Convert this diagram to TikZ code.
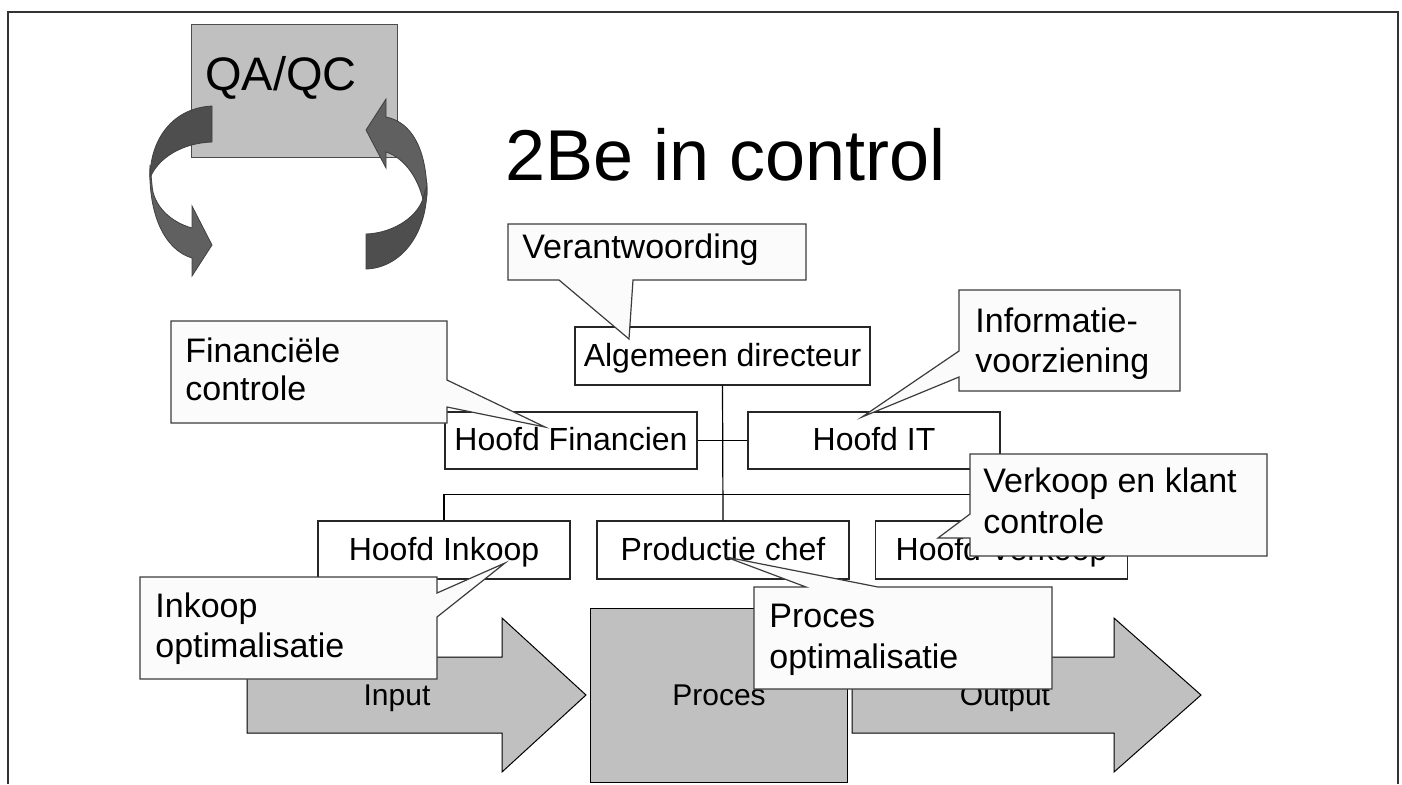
\documentclass[tikz,border=0pt]{standalone}
\usepackage{fontspec}
\setmainfont{Liberation Sans}
\definecolor{qgray}{RGB}{192,192,192}
\definecolor{darkband}{RGB}{78,78,78}
\definecolor{lightband}{RGB}{96,96,96}
\definecolor{callfill}{RGB}{251,251,251}
\definecolor{callline}{RGB}{60,60,60}
\tikzset{
  org/.style={draw=black!85, fill=white, line width=0.6pt, minimum width=126pt,
    minimum height=28.5pt, inner sep=0pt, text height=12.5pt, text depth=2.5pt,
    font=\fontsize{16}{19}\selectfont},
  conn/.style={draw=black, line width=0.6pt},
  callout/.style={draw=callline, fill=callfill, line width=0.6pt, line join=miter},
  ctext/.style={anchor=base west, inner sep=0pt, font=\fontsize{17}{20}\selectfont},
  flowshape/.style={draw=black, fill=qgray, line width=0.5pt},
  flowtext/.style={anchor=base, inner sep=0pt, font=\fontsize{15}{18}\selectfont},
  band/.style={draw=black!75, line width=0.4pt},
  frame/.style={draw=black!80, line width=0.8pt}
}
\begin{document}
\begin{tikzpicture}[x=0.5pt,y=-0.5pt]
\useasboundingbox (0,0) rectangle (1402,784);
% slide frame
\draw[frame] (8,784) -- (8,12) -- (1398,12) -- (1398,784);

% QA/QC box
\node[draw=black!70, fill=qgray, line width=0.5pt, minimum width=103pt, minimum height=66.5pt, inner sep=0pt] (qa) at (294,90.5) {};
\node[anchor=base west, inner sep=0pt, font=\fontsize{23.5}{28}\selectfont] (qatext) at (205,90) {QA/QC};

% left curved arrow
\fill[darkband, band] (212,106) .. controls (172,108) and (150,140) .. (150,178)
   .. controls (158,158) and (182,143) .. (212,142) -- cycle;
\fill[lightband, band] (150,165) .. controls (148,215) and (165,250) .. (192,258)
   -- (192,276) -- (212,245) -- (192,206) -- (192,228)
   .. controls (170,222) and (153,205) .. (152,185) -- cycle;

% right curved arrow
\fill[lightband, band] (366,130) -- (386,99) -- (386,117)
   .. controls (412,122) and (427,150) .. (427,195) -- (424,205)
   .. controls (420,180) and (405,158) .. (386,152) -- (386,168) -- cycle;
\fill[darkband, band] (427,185) .. controls (428,235) and (400,268) .. (366,269)
   -- (366,234) .. controls (395,233) and (420,215) .. (424,195) -- cycle;

% title
\node[anchor=base west, inner sep=0pt, font=\fontsize{36}{42}\selectfont] (title) at (505,180) {2Be in control};

% flow
\draw[flowshape] (247,657) -- (502,657) -- (502,618) -- (586,695) -- (502,772) -- (502,733) -- (247,733) -- cycle;
\node[flowtext] (input) at (397,705) {Input};
\node[flowshape, minimum width=128.5pt, minimum height=87pt, inner sep=0pt] (proc) at (718.5,695) {};
\node[flowtext] (proctext) at (719,705) {Proces};
\draw[flowshape] (852,657) -- (1114,657) -- (1114,618) -- (1201,695) -- (1114,772) -- (1114,733) -- (852,733) -- cycle;
\node[flowtext] (output) at (1005,705) {Output};

% org chart
\node[org, minimum width=147.5pt, minimum height=29pt] (alg) at (722.5,356) {Algemeen directeur};
\node[org] (fin) at (571,440.5) {Hoofd Financien};
\node[org] (it) at (874,440.5) {Hoofd IT};
\node[org, minimum height=29pt] (ink) at (444,550) {Hoofd Inkoop};
\node[org, minimum height=29pt] (prod) at (723,550) {Productie chef};
\node[org, minimum height=29pt] (verk) at (1001.5,550) {Hoofd Verkoop};
\draw[conn] (alg.south) -- (prod.north);
\draw[conn] (fin.east) -- (it.west);
\draw[conn] (ink.north) -- ++(0,-26) -| (verk.north);

% callouts
\draw[callout] (508,224) -- (806,224) -- (806,280) -- (633,280) -- (629,339) -- (559,280) -- (508,280) -- cycle;
\node[ctext] (c1) at (522,258) {Verantwoording};

\draw[callout] (171,321) -- (447,321) -- (447,380) -- (545,427) -- (447,407) -- (447,423) -- (171,423) -- cycle;
\node[ctext] (c2a) at (185,362) {Financiële};
\node[ctext] (c2b) at (185,400) {controle};

\draw[callout] (959,290) -- (1180,290) -- (1180,391) -- (959,391) -- (959,377) -- (862,417) -- (959,351) -- cycle;
\node[ctext] (c3a) at (975,332) {Informatie-};
\node[ctext] (c3b) at (975,372) {voorziening};

\draw[callout] (970,454) -- (1267,454) -- (1267,556) -- (970,556) -- (970,538) -- (938,538) -- (970,514) -- cycle;
\node[ctext] (c4a) at (983,492) {Verkoop en klant};
\node[ctext] (c4b) at (983,533) {controle};

\draw[callout] (140,577) -- (437,577) -- (437,593) -- (505,563) -- (437,617) -- (437,679) -- (140,679) -- cycle;
\node[ctext] (c5a) at (155,617) {Inkoop};
\node[ctext] (c5b) at (155,657) {optimalisatie};

\draw[callout] (754,587) -- (806,587) -- (726,557) -- (878,587) -- (1052,587) -- (1052,689) -- (754,689) -- cycle;
\node[ctext] (c6a) at (769,627) {Proces};
\node[ctext] (c6b) at (769,668) {optimalisatie};
\end{tikzpicture}
\end{document}
